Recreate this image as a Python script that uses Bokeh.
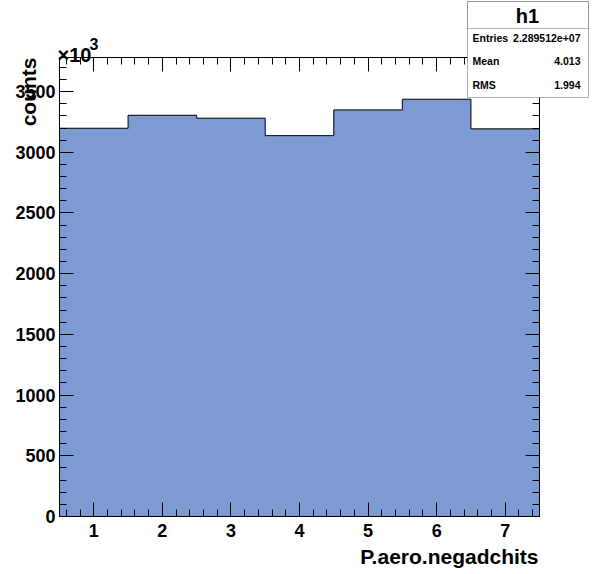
import numpy as np
from bokeh.plotting import figure
from bokeh.models import Range1d, LinearAxis, Label, BoxAnnotation, SingleIntervalTicker
from bokeh.embed import file_html
from bokeh.resources import INLINE

# ---- data (counts in units of 10^3) ----
bin_centers = [1, 2, 3, 4, 5, 6, 7]
counts = [3198, 3305, 3281, 3137, 3349, 3437, 3193]
x_tick_step = 1
y_tick_step = 500
stats_names = ["Entries", "Mean", "RMS"]
stats_values = ["2.289512e+07", "4.013", "1.994"]
hist_name = "h1"
x_title = "P.aero.negadchits"
y_title = "counts"
exponent_base = "\u00d710"
exponent_power = "3"

FILL = "#7b9bd2"
FONT = "Liberation Sans"
W, H = 598, 574
# frame (ROOT pad) position in pixels
FL, FR, FT, FB = 59, 539, 57, 516

xlo, xhi = bin_centers[0] - 0.5, bin_centers[-1] + 0.5
ylo, yhi = 0, max(counts) * 1.1
sx = (xhi - xlo) / (FR - FL)
sy = (yhi - ylo) / (FB - FT)
x_range = Range1d(xlo - FL * sx, xhi + (W - FR) * sx)
y_range = Range1d(ylo - (H - FB) * sy, yhi + FT * sy)

p = figure(width=W, height=H, output_backend="svg", toolbar_location=None,
           x_range=x_range, y_range=y_range,
           x_axis_location=None, y_axis_location=None,
           min_border=0, min_border_left=0, min_border_right=0,
           min_border_top=0, min_border_bottom=0,
           background_fill_color="white", border_fill_color="white")
p.grid.visible = False
p.outline_line_color = None

# histogram: one filled polygon plus the black step outline
edges = np.concatenate([[xlo], np.array(bin_centers) + 0.5])
xs = np.repeat(edges, 2)[1:-1]
ys = np.repeat(counts, 2)
p.patch(np.concatenate([[xlo], xs, [xhi]]), np.concatenate([[0], ys, [0]]),
        fill_color=FILL, line_color=None)
p.line(xs, ys, line_color="black", line_width=1)


def make_axis(step, bounds, loc, show_labels, standoff):
    ax = LinearAxis(ticker=SingleIntervalTicker(interval=step, num_minor_ticks=5),
                    bounds=bounds, fixed_location=loc)
    ax.major_tick_in = 14
    ax.major_tick_out = 0
    ax.minor_tick_in = 7
    ax.minor_tick_out = 0
    ax.axis_line_color = "black"
    ax.major_tick_line_color = "black"
    ax.minor_tick_line_color = "black"
    ax.major_label_standoff = standoff
    ax.major_label_text_font = FONT
    ax.major_label_text_font_style = "bold"
    ax.major_label_text_font_size = "18px"
    ax.major_label_text_color = "black" if show_labels else None
    return ax


p.add_layout(make_axis(x_tick_step, (xlo, xhi), ylo, True, 7), "below")
p.add_layout(make_axis(y_tick_step, (ylo, yhi), xlo, True, 4), "left")
p.add_layout(make_axis(x_tick_step, (xlo, xhi), yhi, False, 0), "above")
p.add_layout(make_axis(y_tick_step, (ylo, yhi), xhi, False, 0), "right")


def lab(text, x, y, size, align="left", baseline="alphabetic", angle=0.0, style="bold"):
    p.add_layout(Label(x=x, y=y, x_units="canvas", y_units="canvas", text=text,
                       text_font=FONT, text_font_style=style, text_font_size=size,
                       text_align=align, text_baseline=baseline, angle=angle,
                       text_color="black"))


# axis titles
lab(x_title, 538, 556, "21px", align="right")
lab(y_title, 28, 57, "21px", align="right", angle=np.pi / 2)
# exponent
lab(exponent_base, 57, 54, "20px")
lab(exponent_power, 89, 43, "16px")

# stats box
def box(l, r, t, b):
    p.add_layout(BoxAnnotation(left=l, right=r, top=t, bottom=b,
                               left_units="canvas", right_units="canvas",
                               top_units="canvas", bottom_units="canvas",
                               fill_color="white", fill_alpha=1.0,
                               line_color="black", line_width=1))

box(467, 588, 1, 97)
box(467, 588, 1, 28)
lab(hist_name, 527, 15, "20px", align="center", baseline="middle")
for i, (n, v) in enumerate(zip(stats_names, stats_values)):
    yy = 37 + 23.5 * i
    lab(n, 472, yy, "10.5px", baseline="middle")
    lab(v, 580, yy, "10.5px", align="right", baseline="middle")

open("out.html", "w").write(file_html(p, INLINE))
